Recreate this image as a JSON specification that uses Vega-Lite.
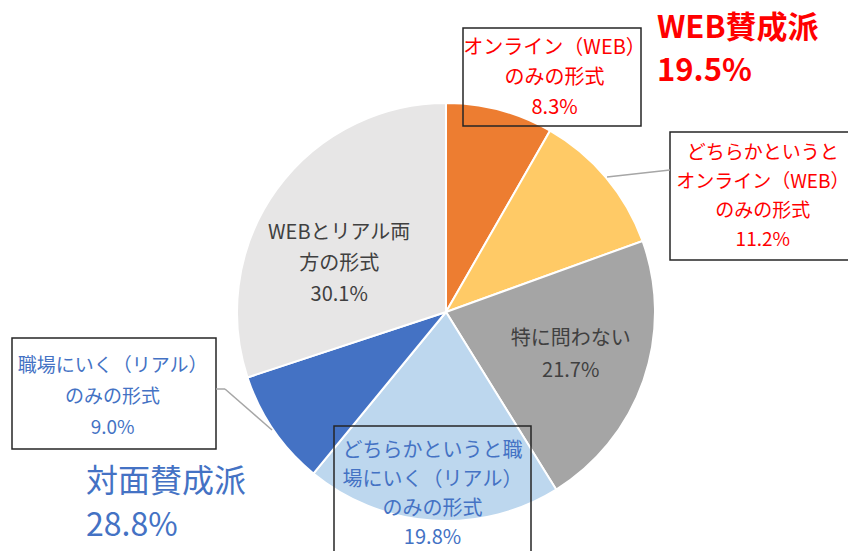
{
  "$schema": "https://vega.github.io/schema/vega-lite/v6.json",
  "width": 848,
  "height": 551,
  "autosize": {"type": "none"},
  "padding": 0,
  "background": "white",
  "config": {"view": {"stroke": null}},
  "data": {"values": [
    {"category": "オンライン（WEB）のみの形式", "label": "オンライン（WEB）\nのみの形式\n8.3%", "value": 8.3, "order": 1},
    {"category": "どちらかというとオンライン（WEB）のみの形式", "label": "どちらかというと\nオンライン（WEB）\nのみの形式\n11.2%", "value": 11.2, "order": 2},
    {"category": "特に問わない", "label": "特に問わない\n21.7%", "value": 21.7, "order": 3},
    {"category": "どちらかというと職場にいく（リアル）のみの形式", "label": "どちらかというと職\n場にいく（リアル）\nのみの形式\n19.8%", "value": 19.8, "order": 4},
    {"category": "職場にいく（リアル）のみの形式", "label": "職場にいく（リアル）\nのみの形式\n9.0%", "value": 9.0, "order": 5},
    {"category": "WEBとリアル両方の形式", "label": "WEBとリアル両\n方の形式\n30.1%", "value": 30.1, "order": 6}
  ]},
  "layer": [
    {
      "encoding": {
        "theta": {"field": "value", "type": "quantitative", "stack": true},
        "order": {"field": "order", "type": "quantitative"},
        "x": {"datum": 446, "type": "quantitative", "scale": {"domain": [0, 848], "nice": false, "zero": false}, "axis": null},
        "y": {"datum": 312, "type": "quantitative", "scale": {"domain": [0, 551], "nice": false, "zero": false, "reverse": true}, "axis": null}
      },
      "layer": [
        {
          "mark": {"type": "arc", "outerRadius": 209, "stroke": "white", "strokeWidth": 2},
          "encoding": {
            "color": {"field": "category", "type": "nominal", "legend": null,
              "scale": {"domain": ["オンライン（WEB）のみの形式", "どちらかというとオンライン（WEB）のみの形式", "特に問わない", "どちらかというと職場にいく（リアル）のみの形式", "職場にいく（リアル）のみの形式", "WEBとリアル両方の形式"],
                        "range": ["#ED7D31", "#FFCA66", "#A5A5A5", "#BDD7EE", "#4472C4", "#E7E6E6"]}}
          }
        },
        {
          "mark": {"type": "text", "radius": 243, "dx": 46, "dy": -29, "lineBreak": "\n", "lineHeight": 30, "fontSize": 20, "font": "Noto Sans CJK JP", "fill": "#FF0000", "align": "center", "baseline": "middle"},
          "encoding": {"text": {"condition": {"test": "datum.order === 1", "field": "label"}, "value": ""}}
        },
        {
          "mark": {"type": "text", "radius": 240, "dx": 133, "dy": -5, "lineBreak": "\n", "lineHeight": 29, "fontSize": 19, "font": "Noto Sans CJK JP", "fill": "#FF0000", "align": "center", "baseline": "middle"},
          "encoding": {"text": {"condition": {"test": "datum.order === 2", "field": "label"}, "value": ""}}
        },
        {
          "mark": {"type": "text", "radius": 132, "dx": 0, "dy": -16, "lineBreak": "\n", "lineHeight": 32, "fontSize": 20, "font": "Noto Sans CJK JP", "fill": "#404040", "align": "center", "baseline": "middle"},
          "encoding": {"text": {"condition": {"test": "datum.order === 3", "field": "label"}, "value": ""}}
        },
        {
          "mark": {"type": "text", "radius": 182, "dx": -1.5, "dy": -43, "lineBreak": "\n", "lineHeight": 29, "fontSize": 20, "font": "Noto Sans CJK JP", "fill": "#4472C4", "align": "center", "baseline": "middle"},
          "encoding": {"text": {"condition": {"test": "datum.order === 4", "field": "label"}, "value": ""}}
        },
        {
          "mark": {"type": "text", "radius": 300, "dx": -86, "dy": -116, "lineBreak": "\n", "lineHeight": 31, "fontSize": 19, "font": "Noto Sans CJK JP", "fill": "#4472C4", "align": "center", "baseline": "middle"},
          "encoding": {"text": {"condition": {"test": "datum.order === 5", "field": "label"}, "value": ""}}
        },
        {
          "mark": {"type": "text", "radius": 117, "dx": -12, "dy": -10, "lineBreak": "\n", "lineHeight": 31, "fontSize": 20, "font": "Noto Sans CJK JP", "fill": "#404040", "align": "center", "baseline": "middle"},
          "encoding": {"text": {"condition": {"test": "datum.order === 6", "field": "label"}, "value": ""}}
        }
      ]
    },
    {
      "data": {"values": [{}]},
      "mark": {"type": "rect", "filled": false, "stroke": "#262626", "strokeWidth": 1.5},
      "encoding": {
        "x": {"datum": 463, "type": "quantitative", "scale": {"domain": [0, 848], "nice": false, "zero": false}, "axis": null},
        "x2": {"datum": 641},
        "y": {"datum": 28, "type": "quantitative", "scale": {"domain": [0, 551], "nice": false, "zero": false, "reverse": true}, "axis": null},
        "y2": {"datum": 126}
      }
    },
    {
      "data": {"values": [{}]},
      "mark": {"type": "rect", "filled": false, "stroke": "#262626", "strokeWidth": 1.5},
      "encoding": {
        "x": {"datum": 670, "type": "quantitative"},
        "x2": {"datum": 852},
        "y": {"datum": 132, "type": "quantitative"},
        "y2": {"datum": 260}
      }
    },
    {
      "data": {"values": [{}]},
      "mark": {"type": "rect", "filled": false, "stroke": "#262626", "strokeWidth": 1.5},
      "encoding": {
        "x": {"datum": 12, "type": "quantitative"},
        "x2": {"datum": 216},
        "y": {"datum": 338, "type": "quantitative"},
        "y2": {"datum": 449}
      }
    },
    {
      "data": {"values": [{}]},
      "mark": {"type": "rect", "filled": false, "stroke": "#262626", "strokeWidth": 1.5},
      "encoding": {
        "x": {"datum": 334, "type": "quantitative"},
        "x2": {"datum": 531},
        "y": {"datum": 426, "type": "quantitative"},
        "y2": {"datum": 560}
      }
    },
    {
      "data": {"values": [{}]},
      "mark": {"type": "rule", "stroke": "#A6A6A6", "strokeWidth": 1.5},
      "encoding": {
        "x": {"datum": 607, "type": "quantitative"},
        "x2": {"datum": 670},
        "y": {"datum": 177, "type": "quantitative"},
        "y2": {"datum": 170}
      }
    },
    {
      "data": {"values": [{}]},
      "mark": {"type": "rule", "stroke": "#A6A6A6", "strokeWidth": 1.5},
      "encoding": {
        "x": {"datum": 216, "type": "quantitative"},
        "x2": {"datum": 225},
        "y": {"datum": 389, "type": "quantitative"},
        "y2": {"datum": 389}
      }
    },
    {
      "data": {"values": [{}]},
      "mark": {"type": "rule", "stroke": "#A6A6A6", "strokeWidth": 1.5},
      "encoding": {
        "x": {"datum": 225, "type": "quantitative"},
        "x2": {"datum": 272},
        "y": {"datum": 389, "type": "quantitative"},
        "y2": {"datum": 430}
      }
    },
    {
      "data": {"values": [{"text": "WEB賛成派\n19.5%"}]},
      "mark": {"type": "text", "lineBreak": "\n", "lineHeight": 43, "fontSize": 31, "fontWeight": "bold", "font": "Noto Sans CJK JP", "fill": "#FF0000", "align": "left", "baseline": "middle"},
      "encoding": {
        "x": {"datum": 657, "type": "quantitative"},
        "y": {"datum": 29, "type": "quantitative"},
        "text": {"field": "text"}
      }
    },
    {
      "data": {"values": [{"text": "対面賛成派\n28.8%"}]},
      "mark": {"type": "text", "lineBreak": "\n", "lineHeight": 44, "fontSize": 32, "font": "Noto Sans CJK JP", "fill": "#4472C4", "align": "left", "baseline": "middle"},
      "encoding": {
        "x": {"datum": 86, "type": "quantitative"},
        "y": {"datum": 482, "type": "quantitative"},
        "text": {"field": "text"}
      }
    }
  ]
}
